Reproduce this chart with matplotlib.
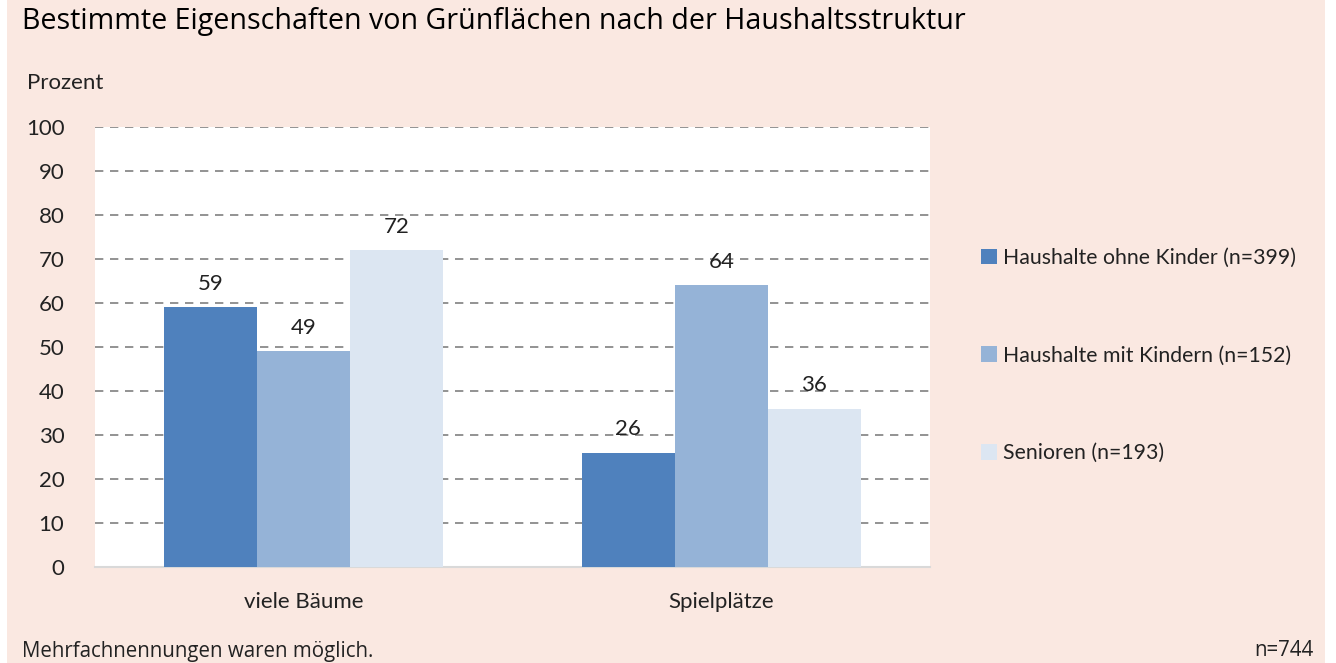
import numpy as np
import matplotlib.pyplot as plt
from matplotlib.patches import Rectangle

categories = ['viele Bäume', 'Spielplätze']
series_names = ['Haushalte ohne Kinder (n=399)',
                'Haushalte mit Kindern (n=152)',
                'Senioren (n=193)']
ohne_kinder = [59, 26]
mit_kindern = [49, 64]
senioren = [72, 36]
yticks = list(range(0, 101, 10))

colors = ['#4F81BD', '#95B3D7', '#DCE6F2']
bg = '#FAE8E1'
cond = ['Lato', 'DejaVu Sans']
fs = 16

fig = plt.figure(figsize=(13.36, 6.63), dpi=100)
fig.patch.set_facecolor('white')
fig.patches.append(Rectangle((7 / 1336, 0), 1318 / 1336, 1, transform=fig.transFigure,
                             facecolor=bg, edgecolor='none', zorder=-10))

ax = fig.add_axes([95 / 1336, 1 - 567 / 663, 835 / 1336, 440 / 663])
ax.set_facecolor('white')

x = np.arange(len(categories))
w = 0.223
for i, vals in enumerate([ohne_kinder, mit_kindern, senioren]):
    bars = ax.bar(x + (i - 1) * w, vals, w, color=colors[i], label=series_names[i], zorder=3)
    for b, v in zip(bars, vals):
        ax.text(b.get_x() + b.get_width() / 2, v + 3, str(v), ha='center', va='bottom',
                fontsize=fs, family=cond, color='#222222')

ax.set_xlim(-0.5, 1.5)
ax.set_ylim(0, 100)
ax.set_yticks(yticks)
ax.set_yticklabels([str(t) for t in yticks], family=cond, fontsize=fs, color='#222222')
ax.set_xticks(x)
ax.set_xticklabels(categories, family=cond, fontsize=fs, color='#222222')
ax.tick_params(axis='y', length=0, pad=22)
ax.tick_params(axis='x', length=0, pad=18)
for t in yticks[1:]:
    ax.axhline(t, color='#808080', lw=1.2, ls=(0, (5, 4)), zorder=1)
for s in ['top', 'right', 'left']:
    ax.spines[s].set_visible(False)
ax.spines['bottom'].set_color('#D9D9D9')
ax.spines['bottom'].set_linewidth(1.5)

handles, labels = ax.get_legend_handles_labels()
leg = fig.legend(handles, labels, loc='upper left', bbox_to_anchor=(962 / 1336, 1 - 229 / 663),
                 frameon=False, prop={'family': cond, 'size': 15.3}, handlelength=0.75,
                 handleheight=0.75, handletextpad=0.3, labelspacing=3.65)
for t in leg.get_texts():
    t.set_color('#222222')

fig.text(22 / 1336, 1 - 21 / 663, 'Bestimmte Eigenschaften von Grünflächen nach der Haushaltsstruktur',
         fontsize=20.6, family='Open Sans', va='center', ha='left', color='black')
fig.text(27 / 1336, 1 - 83 / 663, 'Prozent', fontsize=fs, family=cond, va='center', ha='left',
         color='#222222')
fig.text(22 / 1336, 1 - 651 / 663, 'Mehrfachnennungen waren möglich.', fontsize=14.8,
         family='Open Sans', va='center', ha='left', color='#222222')
fig.text(1314 / 1336, 1 - 651 / 663, 'n=744', fontsize=14.8, family='Open Sans',
         va='center', ha='right', color='#222222')

fig.savefig('out.png', dpi=100, facecolor=fig.get_facecolor())
